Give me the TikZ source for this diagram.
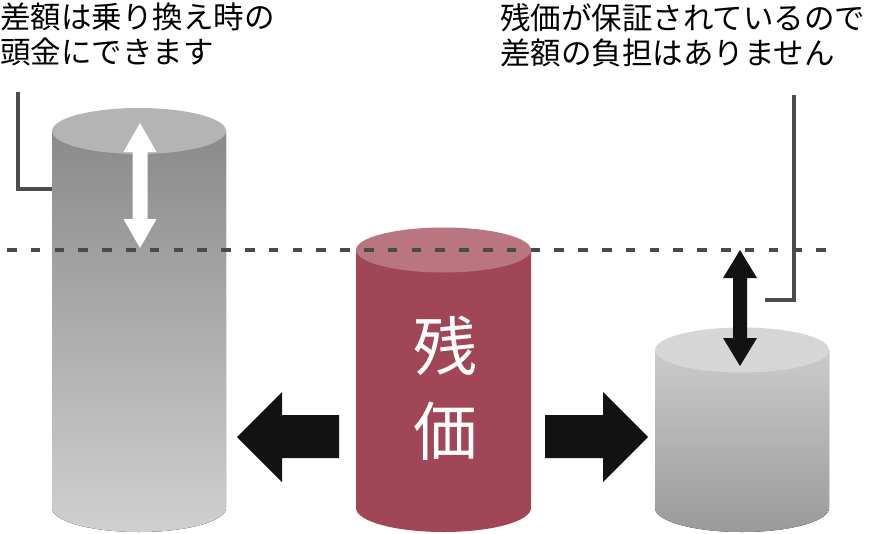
\documentclass[tikz,border=0pt]{standalone}
\usepackage{fontspec}
\newfontfamily\cjk{Noto Sans CJK JP}
\definecolor{lgTop}{HTML}{8A8A8A}
\definecolor{lgBot}{HTML}{D0D0D0}
\definecolor{lgCap}{HTML}{B3B4B3}
\definecolor{redBody}{HTML}{A14656}
\definecolor{redCap}{HTML}{BA7680}
\definecolor{rgTop}{HTML}{CBCBCB}
\definecolor{rgBot}{HTML}{9A9A9A}
\definecolor{rgCap}{HTML}{D5D6D5}
\definecolor{lineGray}{HTML}{4D4D4D}
\definecolor{dashGray}{HTML}{4A4A4A}
\definecolor{arrowBlack}{HTML}{121212}
\begin{document}
\begin{tikzpicture}[x=1pt,y=-1pt,
  conn/.style={draw=lineGray, line width=4pt},
  levelline/.style={draw=dashGray, line width=4.5pt, dash pattern=on 9.5pt off 14.3pt},
  bigarrow/.style={fill=arrowBlack},
  whitearrow/.style={fill=white},
  note/.style={font=\cjk\fontsize{30.5}{35}\selectfont, align=left, inner sep=0pt, anchor=north west, text=black},
  label/.style={font=\cjk\fontsize{64}{85}\selectfont, align=center, inner sep=0pt, text=white}]
\useasboundingbox (0,0) rectangle (869,533);
% left cylinder
\fill[top color=lgTop, bottom color=lgBot] (52,131) -- (52,508) arc[start angle=180,end angle=360,x radius=87pt,y radius=24pt] -- (226,131) -- cycle;
\fill[lgCap] (139,131) ellipse [x radius=87pt, y radius=23pt];
% middle cylinder
\fill[redBody] (356,250) -- (356,508) arc[start angle=180,end angle=360,x radius=87.5pt,y radius=24pt] -- (531,250) -- cycle;
\fill[redCap] (443.5,250) ellipse [x radius=87.5pt, y radius=22.5pt];
% right cylinder
\fill[top color=rgTop, bottom color=rgBot] (655,350) -- (655,508) arc[start angle=180,end angle=360,x radius=87pt,y radius=24pt] -- (829,350) -- cycle;
\fill[rgCap] (742,350) ellipse [x radius=87pt, y radius=22.5pt];
% texts
\node[note] (ltext) at (0,3) {差額は乗り換え時の\\頭金にできます};
\node[note] (rtext) at (500,3) {残価が保証されているので\\差額の負担はありません};
\node[label] (zanka) at (445,388) {残\\価};
% connectors
\coordinate (l1) at (18,92);
\coordinate (lcyl) at (52,189);
\coordinate (r1) at (794,95);
\coordinate (r2) at (765,300);
\draw[conn] (l1) |- (lcyl);
\draw[conn] (r1) |- (r2);
% level line
\coordinate (d1) at (7,250);
\coordinate (d2) at (826,250);
\draw[levelline] (d1) -- (d2);
% white double arrow
\fill[whitearrow] (140,123) -- (156.5,152) -- (147.5,152) -- (147.5,219) -- (156.5,219) -- (140,248) -- (123.5,219) -- (132.5,219) -- (132.5,152) -- (123.5,152) -- cycle;
% black double arrow
\fill[bigarrow] (740,250) -- (757,278) -- (747,278) -- (747,338) -- (757,338) -- (740,366) -- (723,338) -- (733,338) -- (733,278) -- (723,278) -- cycle;
% horizontal arrows
\fill[bigarrow] (237,437) -- (282,392) -- (282,415) -- (339,415) -- (339,458) -- (282,458) -- (282,482) -- cycle;
\fill[bigarrow] (648,437) -- (603,392) -- (603,415) -- (545,415) -- (545,458) -- (603,458) -- (603,482) -- cycle;
\end{tikzpicture}
\end{document}
